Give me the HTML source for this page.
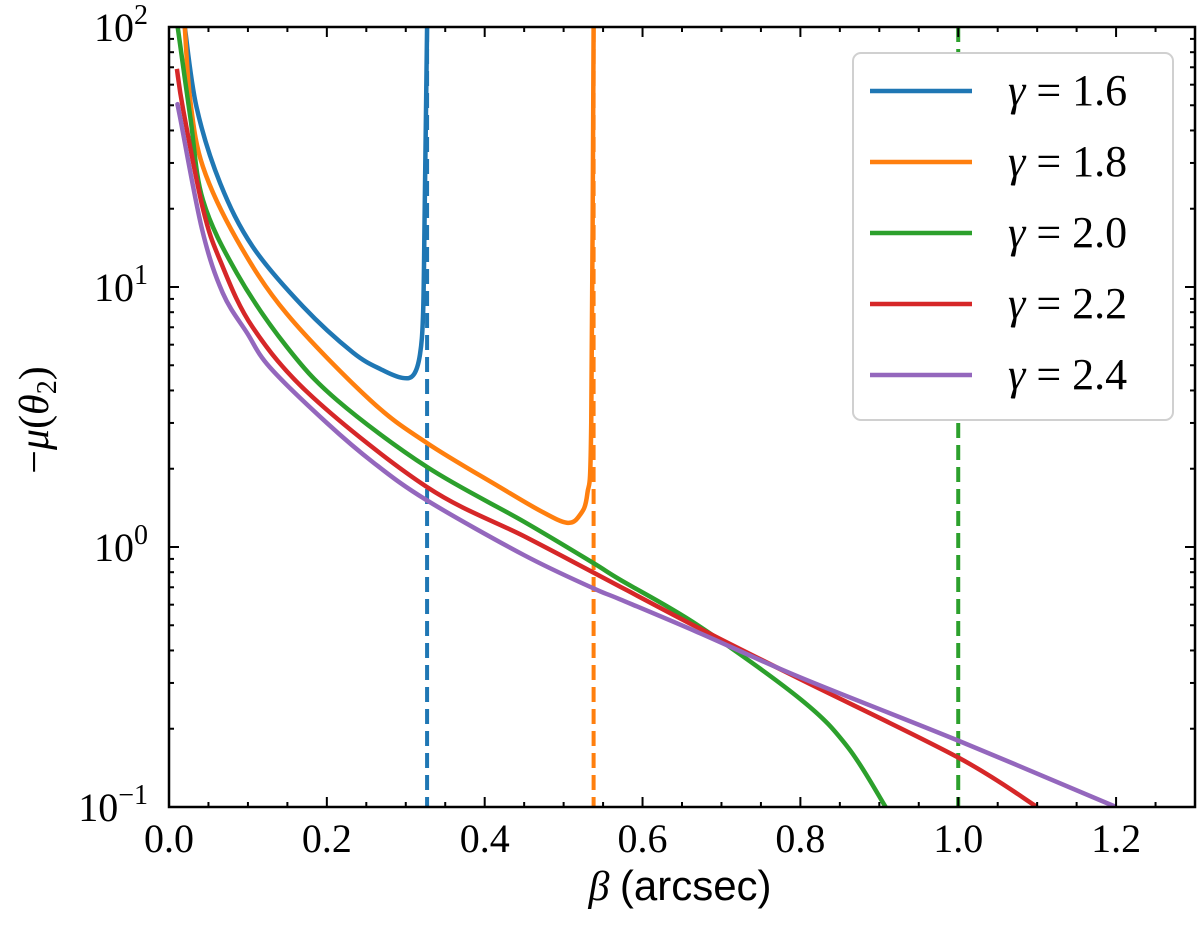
<!DOCTYPE html>
<html><head><meta charset="utf-8"><style>
body{margin:0;background:#fff}
svg text{font-family:"Liberation Serif",serif;fill:#000}
</style></head><body>
<svg id="chart" width="1200" height="922" xmlns="http://www.w3.org/2000/svg">
<g id="marks"></g>
<g id="axes"></g>
<g id="legend"></g>
<text x="680" y="900" text-anchor="middle" font-size="42"><tspan font-style="italic">β</tspan> <tspan font-family="Liberation Sans, sans-serif">(arcsec)</tspan></text>
<text transform="translate(48,420) rotate(-90)" text-anchor="middle" font-size="42">−<tspan font-style="italic">μ</tspan>(<tspan font-style="italic">θ</tspan><tspan font-size="28" dy="8">2</tspan><tspan dy="-8">)</tspan></text>
</svg>
<script>
const labels=['γ = 1.6','γ = 1.8','γ = 2.0','γ = 2.2','γ = 2.4'];
const colors=['#1f77b4','#ff7f0e','#2ca02c','#d62728','#9467bd'];
const betaBlue=[0.02,0.035,0.065,0.106,0.17,0.233,0.27,0.296,0.31,0.318,0.322,0.324,0.327];
const muBlue=[100,49,25,14.3,8.4,5.6,4.8,4.47,4.6,5.5,8,20,100];
const betaOrange=[0.02,0.027,0.043,0.086,0.149,0.255,0.327,0.419,0.47,0.504,0.52,0.53,0.535,0.538];
const muOrange=[100,52,29,15.2,7.9,3.67,2.51,1.7,1.38,1.24,1.32,1.6,3,100];
const betaGreen=[0.011,0.027,0.043,0.086,0.149,0.213,0.327,0.45,0.537,0.571,0.67,0.8,0.86,0.908];
const muGreen=[100,45,21.6,11.3,5.9,3.67,2.03,1.25,0.87,0.75,0.5,0.26,0.17,0.1];
const betaRed=[0.01,0.018,0.043,0.065,0.106,0.182,0.327,0.45,0.537,0.67,0.8,1.0,1.1];
const muRed=[69,48,20,12.6,7,3.77,1.7,1.1,0.8,0.49,0.31,0.155,0.1];
const betaPurple=[0.011,0.014,0.042,0.068,0.099,0.128,0.2,0.26,0.327,0.45,0.537,0.571,0.67,0.8,1.0,1.2];
const muPurple=[50,45,16.6,9.5,6.65,4.9,3.0,2.1,1.51,0.93,0.695,0.63,0.47,0.315,0.18,0.1];
const asymptotes=[0.327,0.538,1.0];
const xTicks=[0,0.2,0.4,0.6,0.8,1.0,1.2];
const xTickLabels=['0.0','0.2','0.4','0.6','0.8','1.0','1.2'];
const yTicks=[0.1,1,10,100];
const yTickExp=['−1','0','1','2'];

const L=169,R=1195,T=27,B=807,XMAX=1.3,YMIN=-1,YMAX=2;
function sx(v){return L+v/XMAX*(R-L);}
function sy(v){return B-(Math.log10(v)-YMIN)/(YMAX-YMIN)*(B-T);}
const NS='http://www.w3.org/2000/svg';
function mk(t,a,p){const e=document.createElementNS(NS,t);for(const k in a)e.setAttribute(k,a[k]);p.appendChild(e);return e;}
const marks=document.getElementById('marks'),axes=document.getElementById('axes'),leg=document.getElementById('legend');
mk('clipPath',{id:'clip'},marks);
mk('rect',{x:L,y:T,width:R-L,height:B-T},document.getElementById('clip'));
const gm=mk('g',{'clip-path':'url(#clip)'},marks);
asymptotes.forEach((a,i)=>{
  const ln=mk('line',{x1:sx(a),x2:sx(a),y1:T,y2:B,stroke:colors[i],'stroke-width':4,'stroke-dasharray':'15,7'},gm);
  
  
});
const series=[[betaBlue,muBlue],[betaOrange,muOrange],[betaGreen,muGreen],[betaRed,muRed],[betaPurple,muPurple]];
series.forEach((s,i)=>{
  const pts=s[0].map((b,j)=>[sx(b),sy(s[1][j])]);
  let d='M'+pts[0][0]+','+pts[0][1];
  for(let j=0;j<pts.length-1;j++){
    const p0=pts[Math.max(j-1,0)],p1=pts[j],p2=pts[j+1],p3=pts[Math.min(j+2,pts.length-1)];
    const c1=[p1[0]+(p2[0]-p0[0])/6,p1[1]+(p2[1]-p0[1])/6],c2=[p2[0]-(p3[0]-p1[0])/6,p2[1]-(p3[1]-p1[1])/6];
    d+=' C'+c1+' '+c2+' '+p2;
  }
  const p=mk('path',{d:d,fill:'none',stroke:colors[i],'stroke-width':4.5},gm);
  
  
});
mk('rect',{x:L,y:T,width:R-L,height:B-T,fill:'none',stroke:'#000','stroke-width':2.5},axes);
for(let k=0;k<=26;k++){const v=k*0.05;const big=k%4==0;
  mk('line',{x1:sx(v),x2:sx(v),y1:B,y2:B-(big?10:5),stroke:'#000','stroke-width':2},axes);
  mk('line',{x1:sx(v),x2:sx(v),y1:T,y2:T+(big?10:5),stroke:'#000','stroke-width':2},axes);}
xTicks.forEach((v,i)=>{const t=mk('text',{x:sx(v),y:852,'text-anchor':'middle','font-size':40},axes);t.textContent=xTickLabels[i];
  
  });
for(let e=-1;e<2;e++)for(let m=1;m<10;m++){const v=m*Math.pow(10,e);const big=m==1;
  mk('line',{x1:L,x2:L+(big?10:5),y1:sy(v),y2:sy(v),stroke:'#000','stroke-width':2},axes);
  mk('line',{x1:R,x2:R-(big?10:5),y1:sy(v),y2:sy(v),stroke:'#000','stroke-width':2},axes);}
yTicks.forEach((v,i)=>{const t=mk('text',{x:148,y:sy(v)+14,'text-anchor':'end','font-size':40},axes);
  t.innerHTML='10<tspan font-size="28" dy="-17">'+yTickExp[i]+'</tspan>';
  
  });
mk('rect',{x:853,y:53,width:320,height:367,rx:8,fill:'#fff',stroke:'#d0d0d0','stroke-width':2},leg);
labels.forEach((l,i)=>{const y=91+i*71;
  const ln=mk('line',{x1:870,x2:972,y1:y,y2:y,stroke:colors[i],'stroke-width':4.5},leg);
  
  
  const t=mk('text',{x:1008,y:y+14,'font-size':44},leg);
  t.innerHTML='<tspan font-style="italic">γ</tspan> = '+l.slice(4);
  
  });
</script>
</body></html>
